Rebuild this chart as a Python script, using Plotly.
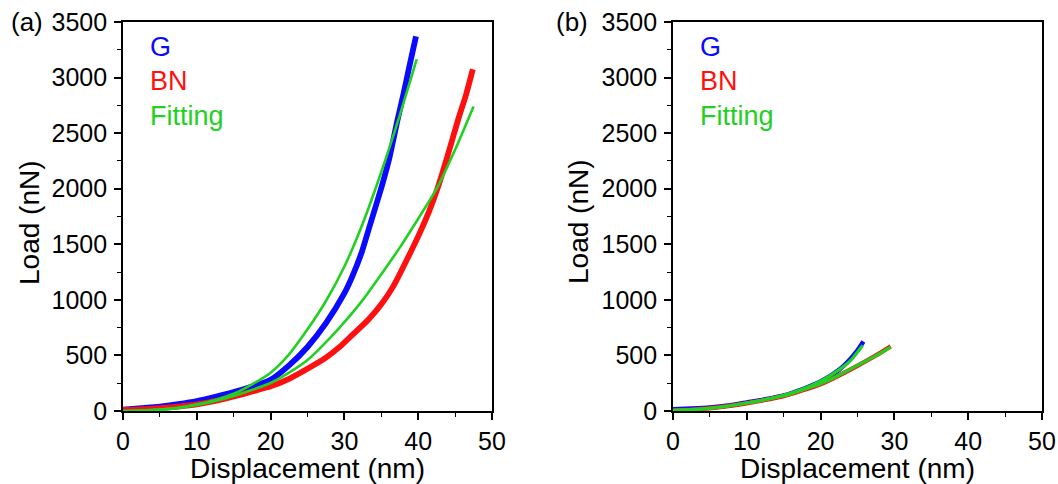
import plotly.graph_objects as go

# ---------------- data ----------------
# Panel (a)
g_a_x = [0, 2.5, 5, 7.5, 10, 12.5, 15, 17.5, 20, 22.5, 25, 27.5, 30, 31, 32.3, 33.5, 35.05, 36, 37.2, 38, 38.7, 39.2, 39.7]
g_a_y = [12, 25, 39, 62, 90, 128, 170, 220, 280, 410, 576, 790, 1060, 1200, 1419, 1680, 2019, 2250, 2619, 2850, 3069, 3220, 3370]

bn_a_x = [0, 2.5, 5, 7.5, 10, 12.5, 15, 17.5, 20, 22.5, 25, 27.5, 29.4, 31, 33.2, 35, 36.6, 38.9, 40.2, 41.5, 42.7, 44, 45.4, 46.5, 47.4]
bn_a_y = [10, 15, 25, 40, 60, 90, 130, 175, 222, 290, 380, 480, 579, 680, 819, 960, 1119, 1419, 1600, 1800, 2019, 2300, 2619, 2850, 3075]

fit_g_a_x = [0, 2.5, 5, 7.5, 10, 12.5, 15, 17.5, 20, 22.5, 25, 27.5, 30, 32.5, 35, 37.5, 39.8]
fit_g_a_y = [0, 3, 12, 30, 60, 100, 155, 240, 345, 510, 735, 990, 1300, 1690, 2150, 2660, 3165]

fit_bn_a_x = [0, 2.5, 5, 7.5, 10, 12.5, 15, 17.5, 20, 22.5, 25, 28, 30, 32.5, 35, 37.5, 40, 42.5, 45, 47.5]
fit_bn_a_y = [0, 3, 12, 28, 55, 90, 135, 190, 252, 345, 459, 654, 800, 1000, 1230, 1470, 1730, 2000, 2350, 2740]

# Panel (b)
g_b_x = [0, 2.5, 5, 7.5, 10, 12.5, 15, 17.5, 20, 22.5, 24, 25, 25.8]
g_b_y = [15, 22, 32, 50, 77, 105, 140, 195, 265, 370, 465, 545, 625]

bn_b_x = [0, 2.5, 5, 7.5, 10, 12.5, 15, 17.5, 20, 22.5, 25, 27.5, 29.5]
bn_b_y = [5, 12, 25, 45, 70, 100, 135, 185, 241, 320, 407, 500, 582]

fit_g_b_x = [0, 2.5, 5, 7.5, 10, 12.5, 15, 17.5, 20, 22.5, 24, 25.7]
fit_g_b_y = [5, 12, 25, 45, 72, 103, 142, 195, 268, 370, 450, 590]

fit_bn_b_x = [0, 2.5, 5, 7.5, 10, 12.5, 15, 17.5, 20, 22.5, 25, 27.5, 29.5]
fit_bn_b_y = [5, 12, 25, 45, 72, 102, 138, 188, 245, 322, 410, 498, 575]

x_ticks = [0, 10, 20, 30, 40, 50]
y_ticks = [0, 500, 1000, 1500, 2000, 2500, 3000, 3500]
legend_labels = ["G", "BN", "Fitting"]
panel_labels = ["(a)", "(b)"]

BLUE = "#0a0aff"
RED = "#ff1010"
GREEN = "#22d022"
FONT = "Liberation Sans, Arial, sans-serif"

W, H = 1058, 484

fig = go.Figure()

def add(x, y, color, width, xa, ya):
    fig.add_trace(go.Scatter(x=x, y=y, mode="lines", line=dict(color=color, width=width, shape="spline", smoothing=0.6),
                             xaxis=xa, yaxis=ya, showlegend=False, hoverinfo="skip"))

add(g_a_x, g_a_y, BLUE, 5.8, "x", "y")
add(bn_a_x, bn_a_y, RED, 5.8, "x", "y")
add(fit_g_a_x, fit_g_a_y, GREEN, 2.6, "x", "y")
add(fit_bn_a_x, fit_bn_a_y, GREEN, 2.6, "x", "y")

add(g_b_x, g_b_y, BLUE, 4.5, "x2", "y2")
add(bn_b_x, bn_b_y, RED, 4.5, "x2", "y2")
add(fit_g_b_x, fit_g_b_y, GREEN, 3.2, "x2", "y2")
add(fit_bn_b_x, fit_bn_b_y, GREEN, 3.2, "x2", "y2")

# plot area pixel geometry
pa = dict(l=123, r=492, t=22, b=411)
pb = dict(l=673, r=1042, t=22, b=411)

def xdom(p):
    return [p["l"] / W, p["r"] / W]

def ydom(p):
    return [1 - p["b"] / H, 1 - p["t"] / H]

axis_common = dict(showgrid=False, zeroline=False, showline=True, linecolor="black", linewidth=1.6,
                   mirror=True, ticks="outside", ticklen=7, tickwidth=1.6, tickcolor="black",
                   automargin=False,
                   tickfont=dict(family=FONT, size=25, color="black"))

xcommon = dict(axis_common, range=[0, 50], tickvals=x_ticks,
               minor=dict(ticks="outside", dtick=5, ticklen=4, tickwidth=1.4, tickcolor="black"))
ycommon = dict(axis_common, range=[0, 3500], tickvals=y_ticks, ticklabelstandoff=2,
               minor=dict(ticks="outside", dtick=250, ticklen=4, tickwidth=1.4, tickcolor="black"))

fig.update_layout(
    width=W, height=H, autosize=False,
    margin=dict(l=0, r=0, t=0, b=0, pad=0, autoexpand=False),
    paper_bgcolor="white", plot_bgcolor="white",
    xaxis=dict(xcommon, domain=xdom(pa), anchor="y"),
    yaxis=dict(ycommon, domain=ydom(pa), anchor="x"),
    xaxis2=dict(xcommon, domain=xdom(pb), anchor="y2"),
    yaxis2=dict(ycommon, domain=ydom(pb), anchor="x2"),
    showlegend=False,
)

def ann(text, px, py, size, color="black", xanchor="center", angle=0):
    fig.add_annotation(text=text, x=px / W, y=1 - py / H, xref="paper", yref="paper",
                       showarrow=False, xanchor=xanchor, yanchor="middle", textangle=angle,
                       font=dict(family=FONT, size=size, color=color))

# panel labels
ann(panel_labels[0], 27, 22, 26)
ann(panel_labels[1], 572, 22, 26)

# axis titles
ann("Displacement (nm)", 307, 468, 28)
ann("Displacement (nm)", 857, 468, 28)
ann("Load (nN)", 29, 223, 28, angle=-90)
ann("Load (nN)", 578, 222, 28, angle=-90)

# in-plot legend texts
colors = [BLUE, RED, GREEN]
for left in (148, 698):
    for lab, col, cy in zip(legend_labels, colors, [47, 81, 116]):
        ann(lab, left, cy, 27, color=col, xanchor="left")

fig.write_html("out.html", config={"responsive": False, "displayModeBar": False},
               post_script="document.body.style.margin='0px';document.body.style.overflow='hidden';")
